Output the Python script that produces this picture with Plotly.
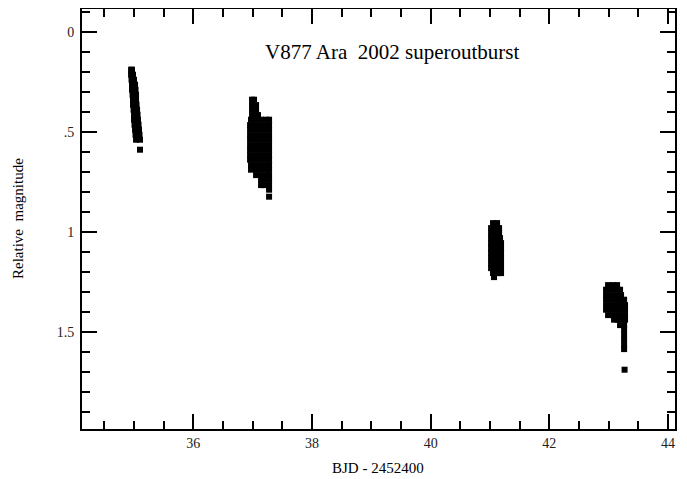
import plotly.graph_objects as go

# Cluster 1 (BJD-2452400 ~ 35.0)
t1 = [34.950, 34.966, 34.950, 34.983, 34.958, 35.000, 34.966, 35.017, 34.966, 35.025,
      34.975, 35.034, 34.983, 35.034, 34.983, 35.042, 34.992, 35.051, 35.000, 35.059,
      35.000, 35.067, 35.008, 35.076, 35.017, 35.084, 35.025, 35.092, 35.034, 35.101, 35.101]
m1 = [0.190, 0.190, 0.215, 0.215, 0.240, 0.240, 0.265, 0.265, 0.290, 0.290,
      0.315, 0.315, 0.340, 0.340, 0.365, 0.365, 0.390, 0.390, 0.415, 0.415,
      0.440, 0.440, 0.465, 0.465, 0.490, 0.490, 0.515, 0.515, 0.540, 0.540, 0.590]

# Cluster 2 (~37.1)
t2 = [36.989, 37.023,
      36.989, 37.057,
      36.989, 37.057,
      36.989, 37.040, 37.090,
      36.972, 37.057, 37.141, 37.225, 37.276,
      36.956, 37.040, 37.124, 37.209, 37.276,
      36.956, 37.040, 37.124, 37.209, 37.276,
      36.956, 37.040, 37.124, 37.209, 37.276,
      36.956, 37.040, 37.124, 37.209, 37.276,
      36.956, 37.040, 37.124, 37.209, 37.276,
      36.956, 37.040, 37.124, 37.209, 37.276,
      36.956, 37.040, 37.124, 37.209, 37.276,
      36.956, 37.040, 37.124, 37.209, 37.276,
      36.972, 37.057, 37.141, 37.225, 37.276,
      36.972, 37.057, 37.141, 37.225, 37.276,
      37.057, 37.141, 37.225, 37.276,
      37.141, 37.209, 37.276,
      37.141, 37.192, 37.276,
      37.276,
      37.276]
m2 = [0.340, 0.340,
      0.367, 0.367,
      0.390, 0.390,
      0.417, 0.417, 0.417,
      0.440, 0.440, 0.440, 0.440, 0.440,
      0.467, 0.467, 0.467, 0.467, 0.467,
      0.490, 0.490, 0.490, 0.490, 0.490,
      0.517, 0.517, 0.517, 0.517, 0.517,
      0.540, 0.540, 0.540, 0.540, 0.540,
      0.567, 0.567, 0.567, 0.567, 0.567,
      0.590, 0.590, 0.590, 0.590, 0.590,
      0.617, 0.617, 0.617, 0.617, 0.617,
      0.640, 0.640, 0.640, 0.640, 0.640,
      0.667, 0.667, 0.667, 0.667, 0.667,
      0.690, 0.690, 0.690, 0.690, 0.690,
      0.717, 0.717, 0.717, 0.717,
      0.740, 0.740, 0.740,
      0.767, 0.767, 0.767,
      0.790,
      0.825]

# Cluster 3 (~41.1)
t3 = [41.051, 41.119,
      41.018, 41.085, 41.153,
      41.018, 41.085, 41.153,
      41.018, 41.085, 41.169,
      41.018, 41.101, 41.186,
      41.018, 41.101, 41.186,
      41.018, 41.101, 41.186,
      41.018, 41.101, 41.186,
      41.018, 41.101, 41.186,
      41.018, 41.101, 41.186,
      41.051, 41.119, 41.186,
      41.068]
m3 = [0.957, 0.957,
      0.982, 0.982, 0.982,
      1.007, 1.007, 1.007,
      1.032, 1.032, 1.032,
      1.057, 1.057, 1.057,
      1.082, 1.082, 1.082,
      1.107, 1.107, 1.107,
      1.132, 1.132, 1.132,
      1.157, 1.157, 1.157,
      1.182, 1.182, 1.182,
      1.207, 1.207, 1.207,
      1.227]

# Cluster 4 (~43.1)
t4 = [42.990, 43.074, 43.142,
      42.956, 43.040, 43.125, 43.192,
      42.956, 43.040, 43.125, 43.209,
      42.956, 43.040, 43.125, 43.209, 43.260,
      42.956, 43.040, 43.125, 43.209, 43.276,
      42.956, 43.040, 43.125, 43.209, 43.276,
      42.990, 43.074, 43.159, 43.226, 43.276,
      43.091, 43.159, 43.226, 43.276,
      43.192, 43.260,
      43.260, 43.260, 43.260, 43.260, 43.260,
      43.268]
m4 = [1.267, 1.267, 1.267,
      1.290, 1.290, 1.290, 1.290,
      1.317, 1.317, 1.317, 1.317,
      1.340, 1.340, 1.340, 1.340, 1.340,
      1.367, 1.367, 1.367, 1.367, 1.367,
      1.390, 1.390, 1.390, 1.390, 1.390,
      1.417, 1.417, 1.417, 1.417, 1.417,
      1.440, 1.440, 1.440, 1.440,
      1.467, 1.467,
      1.487, 1.515, 1.540, 1.567, 1.587,
      1.690]

times = t1 + t2 + t3 + t4
mags = m1 + m2 + m3 + m4

ytickvals = [0, 0.5, 1, 1.5]
yticktext = ["0", ".5", "1", "1.5"]
xtickvals = [36, 38, 40, 42, 44]

FONT = "Liberation Serif"

# page body has an 8px default margin: the figure starts at (8, 8)
OFF = 8
W, H = 687 - OFF, 479 - OFF
L, R, T, B = 82 - OFF, 12, 9 - OFF, 50

fig = go.Figure()
fig.add_trace(go.Scatter(
    x=times, y=mags, mode="markers",
    marker=dict(symbol="square", size=6, color="black", line=dict(width=0)),
    showlegend=False, hoverinfo="x+y"))

axis_common = dict(
    showgrid=False, zeroline=False, showline=True, linecolor="black", linewidth=2,
    mirror="allticks", ticks="inside", ticklen=15, tickwidth=1.5, tickcolor="black",
    tickfont=dict(family=FONT, size=14, color="#222"),
)

fig.update_xaxes(
    range=[34.123, 44.118], tickmode="array", tickvals=xtickvals,
    ticktext=[str(v) for v in xtickvals],
    minor=dict(ticks="inside", dtick=0.5, tick0=0, ticklen=8, tickwidth=1.5, tickcolor="black", showgrid=False),
    **axis_common)
fig.update_yaxes(
    range=[1.9865, -0.1135], tickmode="array", tickvals=ytickvals, ticktext=yticktext,
    minor=dict(ticks="inside", dtick=0.1, tick0=0, ticklen=8, tickwidth=1.5, tickcolor="black", showgrid=False),
    ticklabelstandoff=3,
    **axis_common)

pw, ph = W - L - R, H - T - B


def page_to_paper(px, py):
    return (px - OFF - L) / pw, 1 - (py - OFF - T) / ph


def ann(text, px, py, size, angle=0):
    x, y = page_to_paper(px, py)
    return dict(text=text, x=x, y=y, xref="paper", yref="paper", showarrow=False,
                xanchor="center", yanchor="middle", textangle=angle,
                font=dict(family=FONT, size=size, color="black"))


fig.update_layout(
    width=W, height=H,
    margin=dict(l=L, r=R, t=T, b=B, autoexpand=False),
    paper_bgcolor="white", plot_bgcolor="white",
    font=dict(family=FONT, color="black"),
    annotations=[
        ann("V877 Ara\u00a0\u00a02002 superoutburst", 392, 52, 21),
        ann("BJD - 2452400", 378, 468, 15),
        ann("Relative\u00a0\u00a0magnitude", 18, 219, 15, -90),
    ],
)

fig.write_html("out.html")
